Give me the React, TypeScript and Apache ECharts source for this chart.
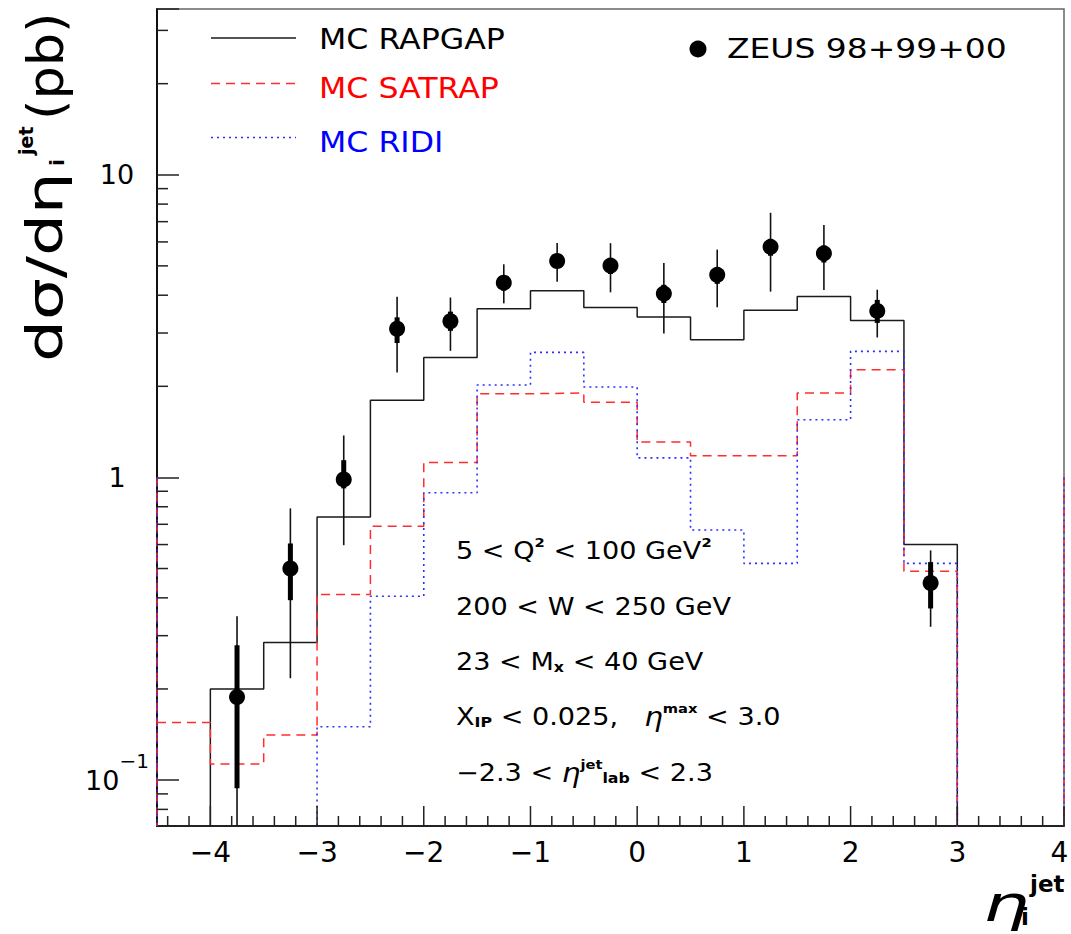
import React, { useEffect, useRef } from "react";
import * as echarts from "echarts";

// Axis ranges (eta of the jet, cross section in pb on a log scale)
const X_MIN = -4.5;
const X_MAX = 4;
const Y_MIN = 0.0705;
const Y_MAX = 35.3;
// An empty bin sits far below the visible part of the log axis
const EMPTY = 1e-3;

// Histogram bins: lower edges, the last bin ends at X_MAX
const binLow = [-4.5, -4, -3.5, -3, -2.5, -2, -1.5, -1, -0.5, 0, 0.5, 1, 1.5, 2, 2.5, 3, 3.5];

// Monte Carlo predictions per bin (pb)
const rapgap = [EMPTY, 0.2, 0.285, 0.74, 1.8, 2.49, 3.61, 4.14, 3.64, 3.39, 2.85, 3.57, 3.96, 3.3, 0.6, EMPTY, EMPTY];
const satrap = [0.155, 0.113, 0.141, 0.41, 0.69, 1.12, 1.89, 1.9, 1.77, 1.31, 1.18, 1.18, 1.9, 2.27, 0.49, EMPTY, EMPTY];
const ridi = [EMPTY, EMPTY, EMPTY, 0.15, 0.405, 0.89, 2.02, 2.59, 1.99, 1.16, 0.67, 0.52, 1.55, 2.61, 0.52, EMPTY, EMPTY];

// ZEUS 98+99+00 data points with statistical and total uncertainties
const zeusEta = [-3.75, -3.25, -2.75, -2.25, -1.75, -1.25, -0.75, -0.25, 0.25, 0.75, 1.25, 1.75, 2.25, 2.75];
const zeusVal = [0.188, 0.5, 0.985, 3.1, 3.28, 4.4, 5.19, 5.01, 4.05, 4.67, 5.78, 5.5, 3.55, 0.448];
const statLo = [0.094, 0.393, 0.92, 2.78, 3.05, 4.14, 4.92, 4.7, 3.77, 4.36, 5.4, 5.13, 3.24, 0.369];
const statHi = [0.279, 0.605, 1.14, 3.38, 3.53, 4.63, 5.47, 5.31, 4.33, 4.94, 6.14, 5.83, 3.86, 0.525];
const totLo = [0.04, 0.217, 0.597, 2.22, 2.62, 3.76, 4.43, 4.09, 2.99, 3.65, 4.11, 4.16, 2.9, 0.321];
const totHi = [0.348, 0.79, 1.376, 3.95, 3.93, 5.06, 5.95, 5.94, 5.11, 5.66, 7.49, 6.82, 4.17, 0.574];

// Tick positions
const xMajorTicks = [-4, -3, -2, -1, 0, 1, 2, 3, 4];
const xMinorTicks = [
  -4.4, -4.2, -3.8, -3.6, -3.4, -3.2, -2.8, -2.6, -2.4, -2.2, -1.8, -1.6, -1.4, -1.2,
  -0.8, -0.6, -0.4, -0.2, 0.2, 0.4, 0.6, 0.8, 1.2, 1.4, 1.6, 1.8, 2.2, 2.4, 2.6, 2.8,
  3.2, 3.4, 3.6, 3.8,
];
const yMinorTicks = [0.08, 0.09, 0.2, 0.3, 0.4, 0.5, 0.6, 0.7, 0.8, 0.9, 2, 3, 4, 5, 6, 7, 8, 9, 20, 30];

// Tick labels of the decades (exponent -> label)
const yDecades = [-1, 0, 1];
const yDecadeLabels = ["{b|10}{s|\u22121}", "1", "10"];

const RED = "#ff2e2e";
const BLUE = "#2e2eff";
const FONT = "DejaVu Sans";

function stepData(values: number[]) {
  const pts: number[][] = binLow.map((x, i) => [x, values[i]]);
  pts.push([X_MAX, values[values.length - 1]]);
  return pts;
}

function tickSeries(data: number[][], len: number, dir: "x" | "y") {
  return {
    type: "custom",
    silent: true,
    z: 4,
    clip: false,
    data,
    encode: { x: 0, y: 1 },
    renderItem: (_params: any, api: any) => {
      const p = api.coord([api.value(0), api.value(1)]);
      const shape =
        dir === "x"
          ? { x1: p[0], y1: p[1], x2: p[0], y2: p[1] - len }
          : { x1: p[0], y1: p[1], x2: p[0] + len, y2: p[1] };
      return { type: "line", shape, style: { stroke: "#222", lineWidth: 1.5 } };
    },
  };
}

function histSeries(name: string, values: number[], color: string, dash: any, width: number) {
  return {
    name,
    type: "line",
    step: "end",
    data: stepData(values),
    symbol: "none",
    clip: true,
    z: 2,
    lineStyle: { color, width, type: dash },
  };
}

function edgeSeries(x: number, color: string, dash: any) {
  return {
    type: "line",
    data: [
      [x, 1],
      [x, Y_MIN],
    ],
    symbol: "none",
    clip: false,
    silent: true,
    z: 3,
    lineStyle: { color, width: 1.5, type: dash },
  };
}

export default function App() {
  const ref = useRef<HTMLDivElement>(null);

  useEffect(() => {
    if (!ref.current) return;
    document.body.style.margin = "0";
    document.body.style.overflow = "hidden";
    const chart = echarts.init(ref.current, undefined, { renderer: "svg" });

    const xLabel = (v: number) => {
      const r = Math.round(v);
      if (Math.abs(v - r) > 1e-6) return "";
      const s = r < 0 ? "\u2212" + Math.abs(r) : String(r);
      // the last label sits on the right edge of the page: pad it inwards
      return Math.abs(v - X_MAX) < 1e-6 ? "{edge|" + s + "}" : s;
    };
    const yLabel = (v: number) => {
      const e = Math.log10(v);
      const r = Math.round(e);
      if (Math.abs(e - r) > 1e-6) return "";
      const i = yDecades.indexOf(r);
      return i < 0 ? "" : yDecadeLabels[i];
    };

    const condStyle = {
      fontSize: 24,
      fontFamily: FONT,
      fill: "#000",
      align: "left",
      verticalAlign: "middle",
      rich: {
        sup: { fontSize: 13, fontWeight: "bold", fontFamily: FONT, padding: [0, 0, 18, 0] },
        sub: { fontSize: 14, fontWeight: "bold", fontFamily: FONT, padding: [10, 0, 0, 0] },
        eta: { fontSize: 26, fontStyle: "italic", fontFamily: FONT },
      },
    };
    const cond = (y: number, text: string) => ({
      type: "text",
      x: 456,
      y,
      scaleX: 1.13,
      z: 10,
      style: { ...condStyle, text },
    });

    const option: any = {
      animation: false,
      backgroundColor: "#fff",
      grid: {
        left: 157,
        right: 7,
        top: 9,
        bottom: 108,
        containLabel: false,
        outerBoundsMode: "none",
        show: true,
        borderColor: "#666",
        borderWidth: 1.5,
        backgroundColor: "#fff",
      },
      xAxis: {
        type: "value",
        min: X_MIN,
        max: X_MAX,
        interval: 0.5,
        axisLine: { show: true, onZero: false, lineStyle: { color: "#222", width: 2 } },
        axisTick: { show: false },
        splitLine: { show: false },
        axisLabel: {
          formatter: xLabel,
          fontSize: 28,
          fontFamily: FONT,
          color: "#000",
          margin: 12,
          showMinLabel: true,
          showMaxLabel: true,
          rich: {
            edge: { fontSize: 28, fontFamily: FONT, color: "#000", padding: [0, 9, 0, 0] },
          },
        },
      },
      yAxis: {
        type: "log",
        logBase: 10,
        min: Y_MIN,
        max: Y_MAX,
        position: "left",
        axisLine: { show: true, onZero: false, lineStyle: { color: "#111", width: 2 } },
        axisTick: { show: true, inside: true, length: 22, lineStyle: { color: "#222", width: 1.5 } },
        minorTick: { show: false },
        splitLine: { show: false },
        axisLabel: {
          formatter: yLabel,
          fontSize: 27,
          fontFamily: FONT,
          color: "#000",
          align: "center",
          margin: 40,
          rich: {
            b: { fontSize: 27, fontFamily: FONT, color: "#000" },
            s: { fontSize: 20, fontFamily: FONT, color: "#000", padding: [0, 0, 38, 0] },
          },
        },
      },
      series: [
        histSeries("MC RAPGAP", rapgap, "#1a1a1a", "solid", 1.5),
        histSeries("MC SATRAP", satrap, RED, [9, 6], 1.5),
        histSeries("MC RIDI", ridi, BLUE, [2, 4], 1.6),
        edgeSeries(X_MIN, RED, [9, 6]),
        edgeSeries(X_MIN, BLUE, [2, 4]),
        edgeSeries(X_MAX, RED, [9, 6]),
        edgeSeries(X_MAX, BLUE, [2, 4]),
        tickSeries(xMajorTicks.map((v) => [v, Y_MIN]), 20, "x"),
        tickSeries(xMinorTicks.map((v) => [v, Y_MIN]), 10, "x"),
        tickSeries(yMinorTicks.map((v) => [X_MIN, v]), 11, "y"),
        {
          name: "ZEUS errors",
          type: "custom",
          silent: true,
          z: 5,
          data: zeusEta.map((x, i) => [x, totLo[i], totHi[i], statLo[i], statHi[i]]),
          encode: { x: 0, y: [1, 2, 3, 4] },
          renderItem: (params: any, api: any) => {
            const cs = params.coordSys;
            const clampY = (y: number) => Math.max(cs.y, Math.min(cs.y + cs.height, y));
            const x = api.value(0);
            const a = api.coord([x, api.value(1)]);
            const b = api.coord([x, api.value(2)]);
            const c = api.coord([x, api.value(3)]);
            const d = api.coord([x, api.value(4)]);
            return {
              type: "group",
              children: [
                {
                  type: "line",
                  shape: { x1: a[0], y1: clampY(a[1]), x2: b[0], y2: clampY(b[1]) },
                  style: { stroke: "#111", lineWidth: 1.6 },
                },
                {
                  type: "line",
                  shape: { x1: c[0], y1: clampY(c[1]), x2: d[0], y2: clampY(d[1]) },
                  style: { stroke: "#000", lineWidth: 5 },
                },
              ],
            };
          },
        },
        {
          name: "ZEUS 98+99+00",
          type: "scatter",
          z: 6,
          symbol: "circle",
          symbolSize: 16,
          itemStyle: { color: "#000", opacity: 1 },
          data: zeusEta.map((x, i) => [x, zeusVal[i]]),
        },
      ],
      graphic: [
        // legend of the Monte Carlo curves
        { type: "line", z: 10, shape: { x1: 211, y1: 38, x2: 296, y2: 38 }, style: { stroke: "#1a1a1a", lineWidth: 1.5 } },
        { type: "line", z: 10, shape: { x1: 211, y1: 83.5, x2: 296, y2: 83.5 }, style: { stroke: RED, lineWidth: 1.5, lineDash: [9, 6] } },
        { type: "line", z: 10, shape: { x1: 211, y1: 137.5, x2: 296, y2: 137.5 }, style: { stroke: BLUE, lineWidth: 1.6, lineDash: [2, 4] } },
        { type: "text", z: 10, x: 319, y: 39, scaleX: 1.09, style: { text: "MC RAPGAP", fontSize: 29, fontFamily: FONT, fill: "#000", verticalAlign: "middle" } },
        { type: "text", z: 10, x: 319, y: 88, scaleX: 1.09, style: { text: "MC SATRAP", fontSize: 29, fontFamily: FONT, fill: "#ff0000", verticalAlign: "middle" } },
        { type: "text", z: 10, x: 319, y: 142, scaleX: 1.09, style: { text: "MC RIDI", fontSize: 29, fontFamily: FONT, fill: "#0000ff", verticalAlign: "middle" } },
        // data legend
        { type: "circle", z: 10, shape: { cx: 698, cy: 49, r: 8.5 }, style: { fill: "#000" } },
        { type: "text", z: 10, x: 727, y: 49, scaleX: 1.22, style: { text: "ZEUS 98+99+00", fontSize: 27, fontFamily: FONT, fill: "#000", verticalAlign: "middle" } },
        // kinematic region
        cond(551, "5 < Q{sup|2} < 100 GeV{sup|2}"),
        cond(607, "200 < W < 250 GeV"),
        cond(662, "23 < M{sub|x} < 40 GeV"),
        cond(717, "X{sub|IP} < 0.025,   {eta|\u03b7}{sup|max} < 3.0"),
        cond(773, "\u22122.3 < {eta|\u03b7}{sup|jet}{sub|lab} < 2.3"),
        // y axis title, reading bottom to top
        {
          type: "group",
          x: 45,
          y: 362,
          rotation: Math.PI / 2,
          z: 10,
          children: [
            { type: "text", x: 0, y: 0, scaleX: 1.32, style: { text: "d\u03c3/d\u03b7", fontSize: 50, fontFamily: FONT, fill: "#000", align: "left", verticalAlign: "middle" } },
            { type: "text", x: 207, y: -19, style: { text: "jet", fontSize: 19, fontWeight: "bold", fontFamily: FONT, fill: "#000", align: "left", verticalAlign: "middle" } },
            { type: "text", x: 196, y: 12, style: { text: "i", fontSize: 20, fontWeight: "bold", fontFamily: FONT, fill: "#000", align: "left", verticalAlign: "middle" } },
            { type: "text", x: 242, y: 0, scaleX: 1.05, style: { text: "(pb)", fontSize: 50, fontFamily: FONT, fill: "#000", align: "left", verticalAlign: "middle" } },
          ],
        },
        // x axis title
        { type: "text", z: 10, x: 983, y: 904, scaleX: 1.45, style: { text: "\u03b7", fontSize: 50, fontStyle: "italic", fontFamily: FONT, fill: "#000", verticalAlign: "middle" } },
        { type: "text", z: 10, x: 1030, y: 884, style: { text: "jet", fontSize: 23, fontWeight: "bold", fontFamily: FONT, fill: "#000", verticalAlign: "middle" } },
        { type: "text", z: 10, x: 1021, y: 917, style: { text: "i", fontSize: 23, fontWeight: "bold", fontFamily: FONT, fill: "#000", verticalAlign: "middle" } },
      ],
    };

    chart.setOption(option);
    return () => chart.dispose();
  }, []);

  return (
    <div
      ref={ref}
      style={{ position: "absolute", left: 0, top: 0, width: 1071, height: 934, background: "#fff" }}
    />
  );
}
